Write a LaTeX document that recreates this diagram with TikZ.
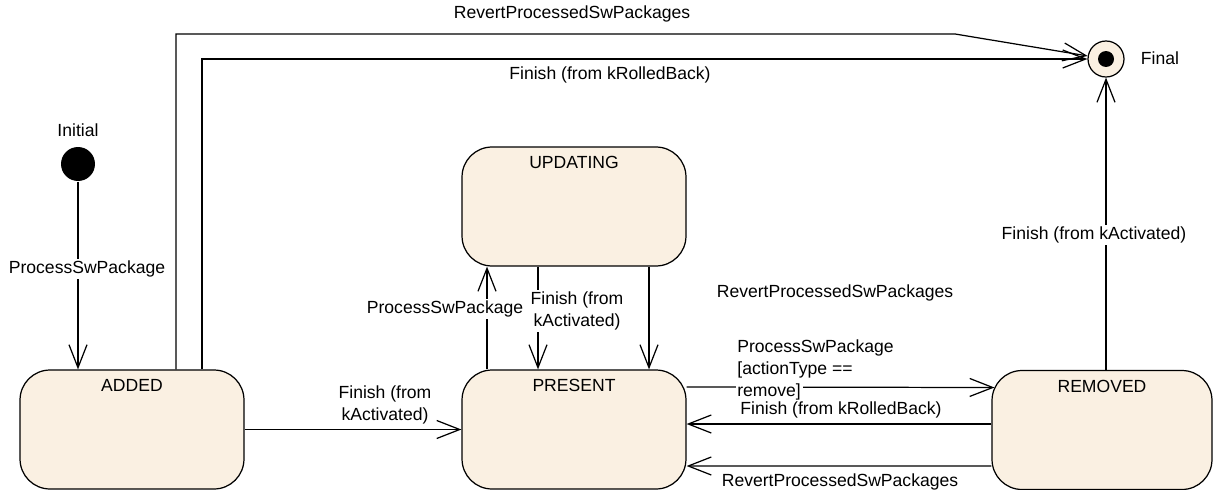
\documentclass[tikz,border=0pt]{standalone}
\usepackage{fontspec}
\setmainfont{Liberation Sans}
\usetikzlibrary{calc,arrows.meta}
\usepackage{xcolor}
\definecolor{statefill}{RGB}{250,240,226}

\begin{document}
\begin{tikzpicture}[x=0.02cm,y=-0.02cm,line width=0.7pt,
			font=\fontsize{10}{13}\selectfont,
			>={Straight Barb[length=0.46cm,width=0.36cm]}]
			\tikzstyle{state}=[draw,fill=statefill,rounded corners=0.6cm,minimum width=4.48cm,minimum height=2.38cm,inner sep=0pt]
			\tikzstyle{stname}=[anchor=north,yshift=-2pt]
			\tikzstyle{lbl}=[fill=white,inner sep=1pt,align=center]
			\useasboundingbox (0,0) rectangle (1214,490);
			% states
			\node [state,label={[stname]north:ADDED}] (added) at (132,429.5) {};
			\node [state,label={[stname]north:PRESENT}] (present) at (574,429.5) {};
			\node [state,label={[stname]north:UPDATING}] (updating) at (574,206.5) {};
			\node [state,minimum width=4.4cm,label={[stname]north:REMOVED}] (removed) at (1102,430) {};
			\node [circle,fill=black,minimum size=0.68cm,inner sep=0pt,
				label={[yshift=2pt]above:Initial}] (init) at (78,164) {};
			\node [circle,draw,fill=statefill,minimum size=0.72cm,inner sep=0pt] (final) at (1106,59) {};
			\node [circle,fill=black,minimum size=0.32cm,inner sep=0pt] (finaldot) at (final) {};
			\node (finallbl) at (1160,58) {Final};
			\coordinate (rvtop) at (955,34);
			% transitions
			\draw[->] (init) -- (added.north -| init);
			\draw[->] ($(added.north)+(44,0)$) |- (rvtop) -- (final);
			\draw[->] ($(added.north)+(70,0)$) |- (final);
			\draw[->] (added) -- (present);
			\draw[->] ($(present.north)+(-87,0)$) -- ($(updating.south)+(-87,0)$);
			\draw[->] ($(updating.south)+(-36,0)$) -- ($(present.north)+(-36,0)$);
			\draw[->] ($(updating.south)+(75,0)$) -- ($(present.north)+(75,0)$);
			\draw[->] ($(present.east)+(0,-42.5)$) -- ($(removed.west)+(3,-42.5)$);
			\draw[->] ($(removed.west)+(0,-6)$) -- ($(present.east)+(0,-5.5)$);
			\draw[->] ($(removed.west)+(0,36)$) -- ($(present.east)+(0,36.5)$);
			\draw[->] (removed.north -| final) -- (final);
			% labels
			\node [lbl] (l1) at (87,269) {ProcessSwPackage};
			\node (l2) at (572,14) {RevertProcessedSwPackages};
			\node (l3) at (610,75) {Finish (from kRolledBack)};
			\node [lbl] (l4) at (385,405) {Finish (from\\kActivated)};
			\node [lbl] (l5) at (445,309) {ProcessSwPackage};
			\node [lbl] (l6) at (577,311) {Finish (from\\kActivated)};
			\node (l7) at (835,293) {RevertProcessedSwPackages};
			\node [align=left,anchor=west,inner sep=1pt] (l8) at (735,359) {ProcessSwPackage\\{[}actionType ==};
			\node [lbl,anchor=west] (l8b) at (735,392) {remove]};
			\node (l9) at (841,410) {Finish (from kRolledBack)};
			\node (l10) at (840,482) {RevertProcessedSwPackages};
			\node [lbl] (l11) at (1094,235) {Finish (from kActivated)};
		\end{tikzpicture}
\end{document}
